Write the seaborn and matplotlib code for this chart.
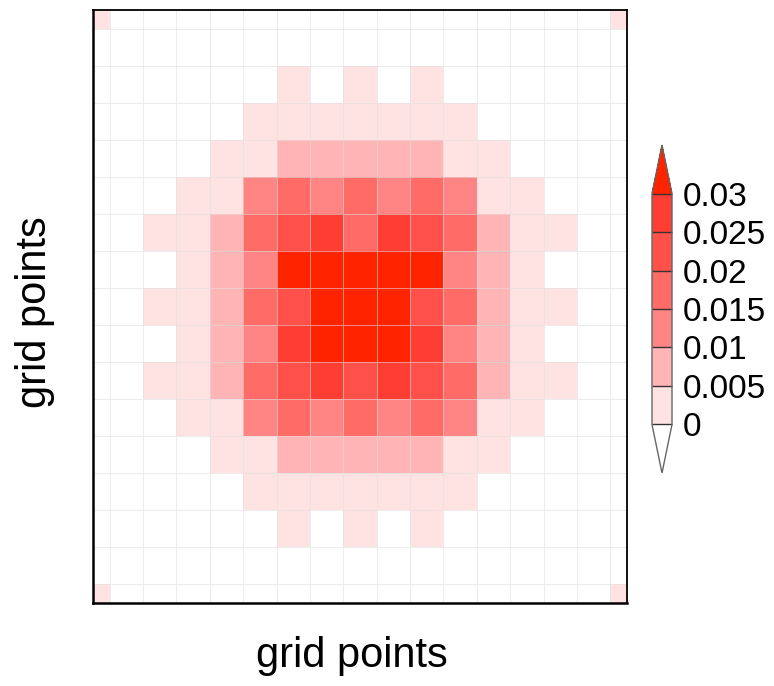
import numpy as np
import pandas as pd
import matplotlib
matplotlib.use("Agg")
import matplotlib.pyplot as plt
from matplotlib.colors import ListedColormap, BoundaryNorm
import seaborn as sns

# ---- data (17 x 17 grid point values) ----
row_00 = [0.002, 0, 0, 0, 0, 0, 0, 0, 0, 0, 0, 0, 0, 0, 0, 0, 0.002]
row_01 = [0, 0, 0, 0, 0, 0, 0, 0, 0, 0, 0, 0, 0, 0, 0, 0, 0]
row_02 = [0, 0, 0, 0, 0, 0, 0.002, 0, 0.002, 0, 0.002, 0, 0, 0, 0, 0, 0]
row_03 = [0, 0, 0, 0, 0, 0.002, 0.003, 0.003, 0.003, 0.003, 0.003, 0.002, 0, 0, 0, 0, 0]
row_04 = [0, 0, 0, 0, 0.002, 0.003, 0.008, 0.008, 0.008, 0.008, 0.008, 0.003, 0.002, 0, 0, 0, 0]
row_05 = [0, 0, 0, 0.002, 0.003, 0.013, 0.018, 0.013, 0.017, 0.013, 0.018, 0.013, 0.003, 0.002, 0, 0, 0]
row_06 = [0, 0, 0.002, 0.003, 0.008, 0.017, 0.022, 0.027, 0.018, 0.027, 0.022, 0.017, 0.008, 0.003, 0.002, 0, 0]
row_07 = [0, 0, 0, 0.003, 0.008, 0.013, 0.032, 0.033, 0.033, 0.033, 0.032, 0.013, 0.008, 0.003, 0, 0, 0]
row_08 = [0, 0, 0.002, 0.003, 0.008, 0.018, 0.023, 0.034, 0.034, 0.034, 0.023, 0.018, 0.008, 0.003, 0.002, 0, 0]
row_09 = [0, 0, 0, 0.003, 0.008, 0.013, 0.027, 0.034, 0.034, 0.034, 0.027, 0.013, 0.008, 0.003, 0, 0, 0]
row_10 = [0, 0, 0.002, 0.003, 0.008, 0.017, 0.022, 0.026, 0.022, 0.027, 0.023, 0.017, 0.008, 0.003, 0.002, 0, 0]
row_11 = [0, 0, 0, 0.002, 0.003, 0.013, 0.018, 0.013, 0.017, 0.013, 0.018, 0.013, 0.003, 0.002, 0, 0, 0]
row_12 = [0, 0, 0, 0, 0.002, 0.003, 0.008, 0.008, 0.008, 0.008, 0.008, 0.003, 0.002, 0, 0, 0, 0]
row_13 = [0, 0, 0, 0, 0, 0.002, 0.003, 0.003, 0.003, 0.003, 0.003, 0.002, 0, 0, 0, 0, 0]
row_14 = [0, 0, 0, 0, 0, 0, 0.002, 0, 0.002, 0, 0.002, 0, 0, 0, 0, 0, 0]
row_15 = [0, 0, 0, 0, 0, 0, 0, 0, 0, 0, 0, 0, 0, 0, 0, 0, 0]
row_16 = [0.002, 0, 0, 0, 0, 0, 0, 0, 0, 0, 0, 0, 0, 0, 0, 0, 0.002]

rows = [row_00, row_01, row_02, row_03, row_04, row_05, row_06, row_07, row_08,
        row_09, row_10, row_11, row_12, row_13, row_14, row_15, row_16]

level_values = [0.0, 0.005, 0.01, 0.015, 0.02, 0.025, 0.03]
level_labels = ["0", "0.005", "0.01", "0.015", "0.02", "0.025", "0.03"]
level_colors = ["#ffe3e3", "#ffb5b5", "#ff8484", "#ff6b67", "#ff5149", "#ff3e33"]
over_color = "#ff2400"
under_color = "#ffffff"
axis_label = "grid points"

# ---- figure ----
plt.rcParams["font.family"] = ["Liberation Sans", "DejaVu Sans"]
W, H = 774, 686
fig = plt.figure(figsize=(W / 100, H / 100), dpi=100)
ax = fig.add_axes([93 / W, (H - 603) / H, 534 / W, 593 / H])
cax = fig.add_axes([652 / W, (H - 473) / H, 20 / W, 328 / H])

data = pd.DataFrame(np.array(rows, dtype=float))

cmap = ListedColormap(level_colors)
cmap.set_under(under_color)
cmap.set_over(over_color)
bounds = list(level_values)
bounds[0] = 1e-9  # exact zeros fall below the first level (drawn white)
norm = BoundaryNorm(bounds, cmap.N)

sns.heatmap(data, ax=ax, cmap=cmap, norm=norm, cbar_ax=cax,
            xticklabels=False, yticklabels=False,
            linewidths=0.7, linecolor=(0.87, 0.87, 0.87, 0.55),
            cbar_kws=dict(extend="both", extendfrac=0.21, drawedges=True,
                          ticks=bounds))

n = len(rows)
ax.set_xlim(0.5, n - 0.5)
ax.set_ylim(n - 0.5, 0.5)
for s in ax.spines.values():
    s.set_visible(True)
    s.set_color("black")
    s.set_linewidth(1.3)
ax.spines["left"].set_linewidth(1.8)
ax.spines["bottom"].set_linewidth(1.8)

ax.set_xlabel(axis_label, fontsize=30)
ax.set_ylabel(axis_label, fontsize=30)
ax.xaxis.set_label_coords(0.485, -0.055)
ax.yaxis.set_label_coords(-0.072, 0.49)

cb = ax.collections[0].colorbar
cb.outline.set_linewidth(1.0)
cb.outline.set_edgecolor("#666666")
cb.dividers.set_color("#333333")
cb.dividers.set_linewidth(1.0)
cb.set_ticks(bounds)
cb.set_ticklabels(level_labels)
cax.tick_params(length=0, pad=8, labelsize=24)

fig.savefig("out.png", dpi=100)
